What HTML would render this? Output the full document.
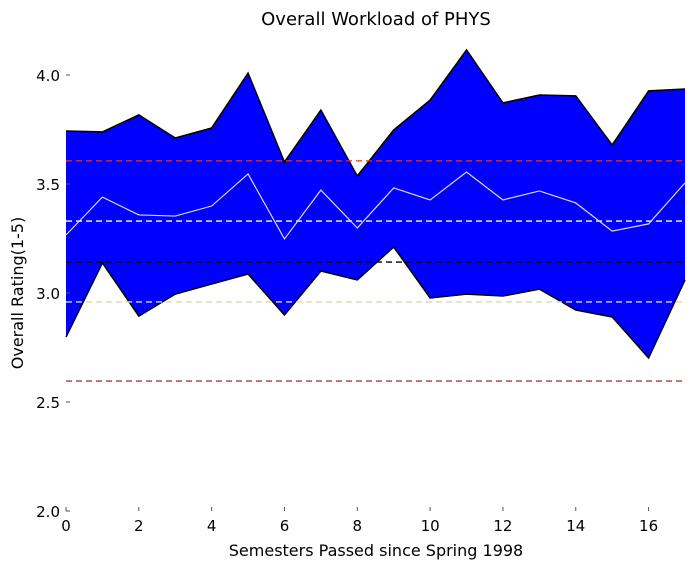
<!DOCTYPE html>
<html><head><meta charset="utf-8"><style>
body{margin:0;background:#fff;width:695px;height:570px;overflow:hidden}
svg text{font-family:"DejaVu Sans","Liberation Sans",sans-serif;fill:#000}
</style></head><body>
<svg id="chart" width="695" height="570" xmlns="http://www.w3.org/2000/svg">
<text x="376" y="25" font-size="18" text-anchor="middle">Overall Workload of PHYS</text>
<text x="376" y="556" font-size="16" text-anchor="middle">Semesters Passed since Spring 1998</text>
<text transform="translate(23,293) rotate(-90)" font-size="16" text-anchor="middle">Overall Rating(1-5)</text>
<g id="plot"></g>
</svg>
<script>
const semesters=[0,1,2,3,4,5,6,7,8,9,10,11,12,13,14,15,16,17];
const upperValues=[3.743,3.739,3.817,3.711,3.757,4.009,3.601,3.839,3.537,3.748,3.885,4.115,3.872,3.908,3.904,3.679,3.927,3.936];
const lowerValues=[2.798,3.138,2.894,2.995,3.041,3.087,2.899,3.101,3.060,3.211,2.977,2.995,2.986,3.018,2.922,2.890,2.702,3.06];
const meanValues=[3.266,3.440,3.358,3.353,3.399,3.546,3.248,3.472,3.298,3.482,3.427,3.555,3.427,3.468,3.413,3.284,3.317,3.505];
const refLevels=[3.606,3.330,3.142,2.959,2.596];
const refColors=['#e8321e','#ffffff','#000000','#d8dcb0','#b03a2e'];
const refNames=['upper-limit-line','mean-ref-line','overall-mean-line','lower-ref-line','lower-limit-line'];
const yTicks=[2.0,2.5,3.0,3.5,4.0];
const xTicks=[0,2,4,6,8,10,12,14,16];
const X=v=>66+v*(685-66)/17;
const Y=v=>511-(v-2)*218;
const NS='http://www.w3.org/2000/svg';
const g=document.getElementById('plot');
function mk(t,a){const e=document.createElementNS(NS,t);for(const k in a)e.setAttribute(k,a[k]);g.appendChild(e);return e;}
let d='M'+semesters.map((s,i)=>X(s)+','+Y(upperValues[i])).join('L');
for(let i=semesters.length-1;i>=0;i--)d+='L'+X(semesters[i])+','+Y(lowerValues[i]);
const band=mk('path',{d:d+'Z',fill:'#0000ff',stroke:'none'});


const up=mk('polyline',{points:semesters.map((s,i)=>X(s)+','+Y(upperValues[i])).join(' '),fill:'none',stroke:'#000','stroke-width':1.5});


const lo=mk('polyline',{points:semesters.map((s,i)=>X(s)+','+Y(lowerValues[i])).join(' '),fill:'none',stroke:'#000','stroke-width':1.5});


refLevels.forEach((v,i)=>{const l=mk('line',{x1:66,x2:685,y1:Y(v),y2:Y(v),stroke:refColors[i],'stroke-width':1.3,'stroke-dasharray':'6,4'});

});
const mn=mk('polyline',{points:semesters.map((s,i)=>X(s)+','+Y(meanValues[i])).join(' '),fill:'none',stroke:'#d8d8f0','stroke-width':1.2});


yTicks.forEach(v=>{const t=mk('line',{x1:66,x2:70,y1:Y(v),y2:Y(v),stroke:'#555','stroke-width':1});


const tx=mk('text',{x:60,y:Y(v)+6,'font-size':15,'text-anchor':'end'});tx.textContent=v.toFixed(1);

});
xTicks.forEach(v=>{const t=mk('line',{x1:X(v),x2:X(v),y1:511,y2:507,stroke:'#555','stroke-width':1});


const tx=mk('text',{x:X(v),y:531,'font-size':15,'text-anchor':'middle'});tx.textContent=v;

});
</script>
</body></html>
